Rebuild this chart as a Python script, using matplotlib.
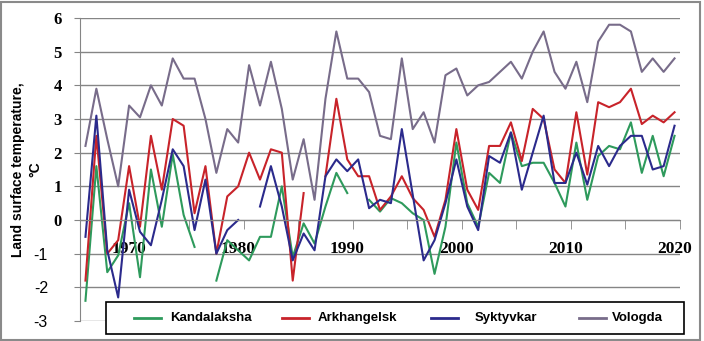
import numpy as np
import matplotlib.pyplot as plt
import matplotlib.transforms as mtransforms
from matplotlib.patches import Rectangle
from matplotlib.lines import Line2D
from matplotlib.ticker import FixedLocator

nan = np.nan

years = list(range(1966, 2021))

kandalaksha = [-2.4, 1.6, -1.55, -1.05, 0.5, -1.7, 1.5, -0.2, 1.95, 0.15,
               -0.8, nan, -1.8, -0.6, -0.9, -1.2, -0.5, -0.5, 1.0, -1.1,
               -0.1, -0.7, 0.4, 1.4, 0.8, nan, 0.6, 0.25, 0.65, 0.5,
               0.2, 0.0, -1.6, -0.2, 2.3, 0.5, -0.2, 1.4, 1.1, 2.6,
               1.6, 1.7, 1.7, 1.1, 0.4, 2.3, 0.6, 1.9, 2.2, 2.1,
               2.9, 1.4, 2.5, 1.3, 2.5]
arkhangelsk = [-1.8, 2.5, -1.0, -0.6, 1.6, -0.2, 2.5, 0.9, 3.0, 2.8,
               0.2, 1.6, -1.0, 0.7, 1.0, 2.0, 1.2, 2.1, 2.0, -1.8,
               0.8, nan, 1.3, 3.6, 1.8, 1.3, 1.3, 0.3, 0.7, 1.3,
               0.65, 0.3, -0.5, 0.6, 2.7, 0.9, 0.3, 2.2, 2.2, 2.9,
               1.75, 3.3, 3.0, 1.5, 1.1, 3.2, 1.35, 3.5, 3.35, 3.5,
               3.9, 2.85, 3.1, 2.9, 3.2]
syktyvkar = [-0.5, 3.1, -0.9, -2.3, 0.9, -0.35, -0.75, 0.6, 2.1, 1.6,
             -0.3, 1.2, -1.0, -0.3, 0.0, nan, 0.4, 1.6, 0.4, -1.2,
             -0.4, -0.9, 1.3, 1.8, 1.45, 1.8, 0.35, 0.6, 0.5, 2.7,
             0.75, -1.2, -0.6, 0.5, 1.8, 0.4, -0.3, 1.9, 1.7, 2.6,
             0.9, 2.0, 3.1, 1.1, 1.1, 2.0, 1.05, 2.2, 1.6, 2.2,
             2.5, 2.5, 1.5, 1.6, 2.8]
vologda = [2.2, 3.9, 2.4, 1.0, 3.4, 3.05, 4.0, 3.4, 4.8, 4.2,
           4.2, 3.0, 1.4, 2.7, 2.3, 4.6, 3.4, 4.7, 3.3, 1.2,
           2.4, 0.6, 3.6, 5.6, 4.2, 4.2, 3.8, 2.5, 2.4, 4.8,
           2.7, 3.2, 2.3, 4.3, 4.5, 3.7, 4.0, 4.1, 4.4, 4.7,
           4.2, 5.0, 5.6, 4.4, 3.9, 4.7, 3.5, 5.3, 5.8, 5.8,
           5.6, 4.4, 4.8, 4.4, 4.8]

names = ["Kandalaksha", "Arkhangelsk", "Syktyvkar", "Vologda"]
colors = ["#2e9a5c", "#c8232a", "#2b2a8c", "#786c8a"]
data = [kandalaksha, arkhangelsk, syktyvkar, vologda]

year_labels = [1970, 1980, 1990, 2000, 2010, 2020]
y_ticks = list(range(-3, 7))

grid_c = "#858585"
W, H = 704, 341

fig = plt.figure(figsize=(W / 100, H / 100), dpi=100)
ax = fig.add_axes([80 / W, 20 / H, 600 / W, 303 / H])

for name, vals, col in zip(names, data, colors):
    ax.plot(years, vals, color=col, lw=1.5, label=name)

ax.set_xlim(1965.5, 2020.5)
ax.set_ylim(-3, 6)

# horizontal grid
ax.set_yticks(y_ticks)
ax.yaxis.grid(True, color=grid_c, lw=1)
ax.set_axisbelow(True)
ax.set_yticklabels([str(v) for v in y_ticks], fontsize=12,
                   fontweight="bold", family="Liberation Serif")
ax.tick_params(axis="y", length=4, color=grid_c, pad=9)

# negative labels sit further left, in plain sans
shift = mtransforms.ScaledTranslation(-14 / 100, 0, fig.dpi_scale_trans)
for v, lab in zip(y_ticks, ax.get_yticklabels()):
    if v < 0:
        lab.set_family("Liberation Sans")
        lab.set_fontweight("normal")
        lab.set_fontsize(11.5)
        lab.set_transform(lab.get_transform() + shift)

# category axis crossing at zero, ticks between years
ax.spines["bottom"].set_position(("data", 0))
ax.spines["bottom"].set_color(grid_c)
ax.spines["left"].set_color(grid_c)
ax.spines["top"].set_visible(False)
ax.spines["right"].set_visible(False)
ax.set_xticks(year_labels)
ax.set_xticklabels([str(y) for y in year_labels], fontsize=12.5,
                   fontweight="bold", family="Liberation Serif")
ax.tick_params(axis="x", which="major", length=0, pad=15)
ax.xaxis.set_minor_locator(FixedLocator([1965.5 + 5 * k for k in range(12)]))
ax.tick_params(axis="x", which="minor", length=6.5, color=grid_c)

# y axis title, two rotated lines
ylab = dict(rotation=90, ha="center", va="center", fontsize=10,
            fontweight="bold", family="Liberation Sans", transform=ax.transAxes)
ax.text(-62 / 600, 0.5, "Land surface temperature,", **ylab)
ax.text(-45 / 600, 0.5, "°C", **ylab)

# legend box along the bottom, entries on a fixed pitch
fig.add_artist(Rectangle((106 / W, 7 / H), 578 / W, 32 / H, transform=fig.transFigure,
                         facecolor="white", edgecolor="black", lw=1.2, zorder=5))
handle_x = [134, 282, 431, 579]
text_x = [170, 318, 475, 612]
ly = (H - 318) / H
for hx, tx, name, col in zip(handle_x, text_x, names, colors):
    fig.add_artist(Line2D([hx / W, (hx + 27) / W], [ly, ly], transform=fig.transFigure,
                          color=col, lw=2, zorder=6))
    fig.text(tx / W, ly, name, ha="left", va="center", fontsize=9.5,
             fontweight="bold", family="Liberation Sans", zorder=6)

# outer chart border
fig.add_artist(Rectangle((0.002, 0.004), 0.993, 0.99, transform=fig.transFigure,
                         fill=False, edgecolor="#8a8a8a", lw=1.5))

fig.savefig("out.png", dpi=100)
